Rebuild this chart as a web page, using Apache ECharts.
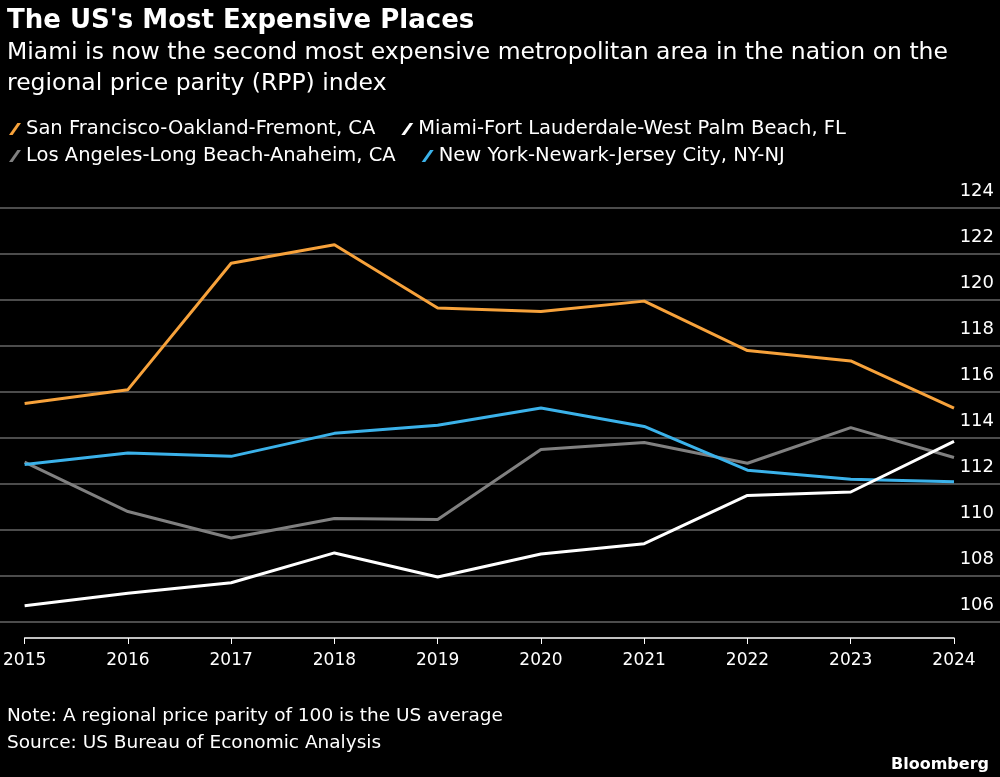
<!DOCTYPE html>
<html><head><meta charset="utf-8">
<script src="https://cdn.jsdelivr.net/npm/echarts@6/dist/echarts.min.js"></script>
<style>html,body{margin:0;background:#000}#c{width:1000px;height:777px}</style>
</head><body><div id="c"></div>
<script>
var years = ['2015','2016','2017','2018','2019','2020','2021','2022','2023','2024'];
var sanFrancisco = [115.5, 116.1, 121.6, 122.4, 119.65, 119.5, 119.95, 117.8, 117.35, 115.3];
var miami = [106.7, 107.25, 107.7, 109.0, 107.95, 108.95, 109.4, 111.5, 111.65, 113.85];
var losAngeles = [112.95, 110.8, 109.65, 110.5, 110.45, 113.5, 113.8, 112.9, 114.45, 113.15];
var newYork = [112.85, 113.35, 113.2, 114.2, 114.55, 115.3, 114.5, 112.6, 112.2, 112.1];
var names = ['San Francisco-Oakland-Fremont, CA', 'Miami-Fort Lauderdale-West Palm Beach, FL',
  'Los Angeles-Long Beach-Anaheim, CA', 'New York-Newark-Jersey City, NY-NJ'];
var colors = ['#f7a23b', '#ffffff', '#808080', '#3bb2ea'];

var chart = echarts.init(document.getElementById('c'));
var font = '"DejaVu Sans", sans-serif';
var icon = 'path://M0,10 L7,0 L10,0 L3,10 Z';
function mk(i, data) {
  return { name: names[i], type: 'line', xAxisIndex: 1, yAxisIndex: 1, data: data,
    symbol: 'none', lineStyle: { width: 3, color: colors[i] }, itemStyle: { color: colors[i] },
    z: i === 1 ? 5 : 3 };
}
chart.setOption({
  backgroundColor: '#000',
  textStyle: { fontFamily: font },
  title: [
    { text: "The US's Most Expensive Places", left: 2, top: 3,
      textStyle: { color: '#fff', fontSize: 26, fontWeight: 'bold', fontFamily: font } },
    { text: 'Miami is now the second most expensive metropolitan area in the nation on the\nregional price parity (RPP) index',
      left: 2, top: 32, textStyle: { color: '#fff', fontSize: 23.5, fontWeight: 'normal', lineHeight: 31, fontFamily: font } },
    { text: 'Note: A regional price parity of 100 is the US average\nSource: US Bureau of Economic Analysis',
      left: 2, top: 698, textStyle: { color: '#fff', fontSize: 18.5, fontWeight: 'normal', lineHeight: 27, fontFamily: font } },
    { text: 'Bloomberg', right: 6, top: 752,
      textStyle: { color: '#fff', fontSize: 16, fontWeight: 'bold', fontFamily: font } }
  ],
  legend: [
    { data: [names[0], names[1]], left: 4, top: 114, icon: icon, itemWidth: 12, itemHeight: 16, itemGap: 26,
      textStyle: { color: '#fff', fontSize: 19.5, fontFamily: font } },
    { data: [names[2], names[3]], left: 4, top: 141, icon: icon, itemWidth: 12, itemHeight: 16, itemGap: 26,
      textStyle: { color: '#fff', fontSize: 19.5, fontFamily: font } }
  ],
  grid: [
    { left: 0, right: 0, top: 208, bottom: 155 },
    { left: 20, right: 46, top: 208, bottom: 139 }
  ],
  xAxis: [
    { gridIndex: 0, type: 'value', show: false, min: 0, max: 1 },
    { gridIndex: 1, type: 'category', data: years, boundaryGap: false,
      axisLine: { lineStyle: { color: '#fff', width: 1.5 } },
      axisTick: { lineStyle: { color: '#fff' }, length: 6 },
      axisLabel: { color: '#fff', fontSize: 17, margin: 14, fontFamily: font } }
  ],
  yAxis: [
    { gridIndex: 0, type: 'value', position: 'right', min: 106, max: 124, interval: 2,
      axisLine: { show: false }, axisTick: { show: false },
      splitLine: { lineStyle: { color: '#666', width: 1.5 } },
      axisLabel: { inside: true, color: '#fff', fontSize: 18, margin: 6, verticalAlign: 'bottom', padding: [0, 0, 8, 0], fontFamily: font } },
    { gridIndex: 1, type: 'value', min: 105.3, max: 124, show: false, splitLine: { show: false } }
  ],
  series: [mk(2, losAngeles), mk(3, newYork), mk(0, sanFrancisco), mk(1, miami)]
});
</script></body></html>
